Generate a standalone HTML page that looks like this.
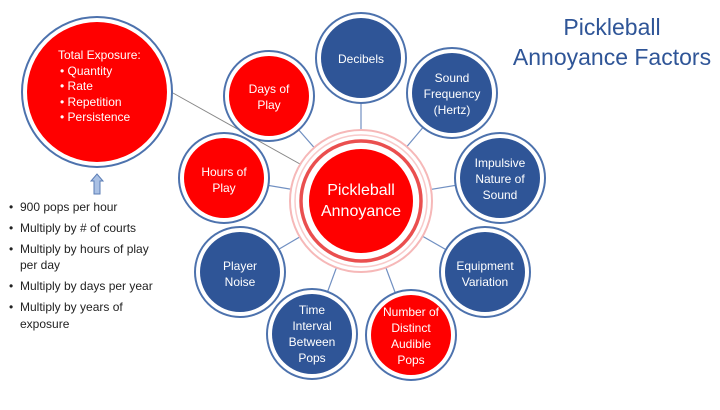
<!DOCTYPE html>
<html><head><meta charset="utf-8"><style>
body{margin:0;background:#fff;}
svg text{font-family:"Liberation Sans",sans-serif;}
</style></head><body>
<svg width="720" height="405" viewBox="0 0 720 405" xmlns="http://www.w3.org/2000/svg">
<g stroke="#7190c2" stroke-width="1.2">
<line x1="361" y1="201" x2="361" y2="58"/>
<line x1="361" y1="201" x2="452" y2="93"/>
<line x1="361" y1="201" x2="500" y2="178"/>
<line x1="361" y1="201" x2="485" y2="272"/>
<line x1="361" y1="201" x2="411" y2="335"/>
<line x1="361" y1="201" x2="312" y2="334"/>
<line x1="361" y1="201" x2="240" y2="272"/>
<line x1="361" y1="201" x2="224" y2="178"/>
<line x1="361" y1="201" x2="269" y2="96"/>
</g>
<line x1="173" y1="93" x2="325" y2="178" stroke="#888" stroke-width="1"/>
<circle cx="361" cy="201" r="71" fill="#fff" stroke="#f6b8b8" stroke-width="2"/>
<circle cx="361" cy="201" r="66" fill="none" stroke="#f8caca" stroke-width="1.5"/>
<circle cx="361" cy="201" r="60" fill="none" stroke="#ea4f4f" stroke-width="3.5"/>
<circle cx="361" cy="201" r="52" fill="#ff0000"/>
<text x="361" y="195" font-size="16" fill="#fff" text-anchor="middle">Pickleball</text>
<text x="361" y="216" font-size="16" fill="#fff" text-anchor="middle">Annoyance</text>
<g stroke="#4d72ad" stroke-width="2">
<circle cx="97" cy="92" r="75" fill="#fff"/>
<circle cx="269" cy="96" r="45" fill="#fff"/>
<circle cx="224" cy="178" r="45" fill="#fff"/>
<circle cx="361" cy="58" r="45" fill="#fff"/>
<circle cx="452" cy="93" r="45" fill="#fff"/>
<circle cx="500" cy="178" r="45" fill="#fff"/>
<circle cx="485" cy="272" r="45" fill="#fff"/>
<circle cx="411" cy="335" r="45" fill="#fff"/>
<circle cx="312" cy="334" r="45" fill="#fff"/>
<circle cx="240" cy="272" r="45" fill="#fff"/>
</g>
<g>
<circle cx="97" cy="92" r="70" fill="#ff0000"/>
<circle cx="269" cy="96" r="40" fill="#ff0000"/>
<circle cx="224" cy="178" r="40" fill="#ff0000"/>
<circle cx="361" cy="58" r="40" fill="#2f5597"/>
<circle cx="452" cy="93" r="40" fill="#2f5597"/>
<circle cx="500" cy="178" r="40" fill="#2f5597"/>
<circle cx="485" cy="272" r="40" fill="#2f5597"/>
<circle cx="411" cy="335" r="40" fill="#ff0000"/>
<circle cx="312" cy="334" r="40" fill="#2f5597"/>
<circle cx="240" cy="272" r="40" fill="#2f5597"/>
</g>
<g fill="#fff" font-size="12" text-anchor="middle">
<text x="269" y="93">Days of</text><text x="269" y="109">Play</text>
<text x="224" y="176">Hours of</text><text x="224" y="192">Play</text>
<text x="361" y="63">Decibels</text>
<text x="452" y="82">Sound</text><text x="452" y="98">Frequency</text><text x="452" y="114">(Hertz)</text>
<text x="500" y="167">Impulsive</text><text x="500" y="183">Nature of</text><text x="500" y="199">Sound</text>
<text x="485" y="270">Equipment</text><text x="485" y="286">Variation</text>
<text x="411" y="316">Number of</text><text x="411" y="332">Distinct</text><text x="411" y="348">Audible</text><text x="411" y="364">Pops</text>
<text x="312" y="145" display="none"></text>
<text x="312" y="145" dy="0" display="none"></text>
<text x="312" y="314">Time</text><text x="312" y="330">Interval</text><text x="312" y="346">Between</text><text x="312" y="362">Pops</text>
<text x="240" y="270">Player</text><text x="240" y="286">Noise</text>
</g>
<g fill="#fff" font-size="12">
<text x="58" y="59">Total Exposure:</text>
<text x="60" y="75">• Quantity</text>
<text x="60" y="90">• Rate</text>
<text x="60" y="106">• Repetition</text>
<text x="60" y="121">• Persistence</text>
</g>
<path d="M94 194 V181 H91 L97 174 L103 181 H100 V194 Z" fill="#a9c0e4" stroke="#5b7db5" stroke-width="1"/>
<g fill="#222" font-size="12">
<text x="9" y="211">•</text><text x="20" y="211">900 pops per hour</text>
<text x="9" y="232">•</text><text x="20" y="232">Multiply by # of courts</text>
<text x="9" y="253">•</text><text x="20" y="253">Multiply by hours of play</text>
<text x="20" y="269">per day</text>
<text x="9" y="290">•</text><text x="20" y="290">Multiply by days per year</text>
<text x="9" y="311">•</text><text x="20" y="311">Multiply by years of</text>
<text x="20" y="328">exposure</text>
</g>
<g fill="#2f5597" font-size="23" text-anchor="middle">
<text x="612" y="35">Pickleball</text>
<text x="612" y="65">Annoyance Factors</text>
</g>
</svg>
</body></html>
